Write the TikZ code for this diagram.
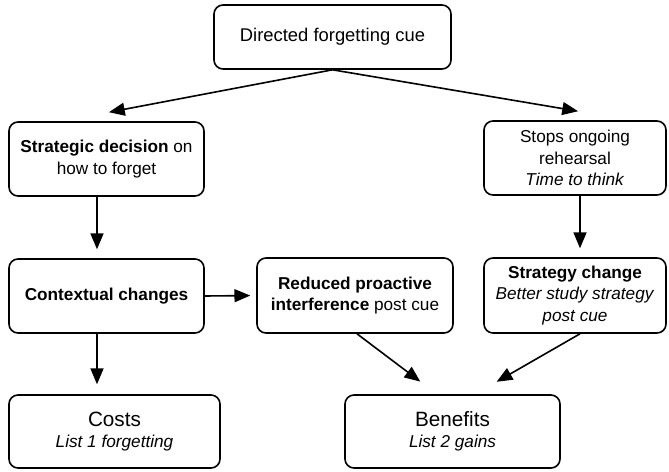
\documentclass[tikz,border=0pt]{standalone}
\usepackage{fontspec}
\setmainfont{Liberation Sans}
\usetikzlibrary{arrows}

\begin{document}
\begin{tikzpicture}
  [x=0.5pt,y=-0.5pt,
   every node/.style={draw,rounded corners=4.5pt,line width=0.8pt,align=center,
     inner sep=2pt,font=\fontsize{8.6}{10.75}\selectfont},
   link/.style={line width=0.8pt,arrows={-{triangle 45}}}]
  \useasboundingbox (0,0) rectangle (669,471);

  \node[minimum width=118.5pt,minimum height=32pt,font=\fontsize{9.2}{11}\selectfont]
    (cue) at (332.5,37) {Directed forgetting cue};
  \node[minimum width=97.5pt,minimum height=37pt] (decide) at (106.5,159)
    {\textbf{Strategic decision} on\\how to forget};
  \node[minimum width=91pt,minimum height=37pt] (stops) at (575,158)
    {Stops ongoing\\rehearsal\\\textit{Time to think}};
  \node[minimum width=97.5pt,minimum height=37pt] (context) at (106.5,296)
    {\textbf{Contextual changes}};
  \node[minimum width=98pt,minimum height=37.5pt] (reduced) at (355,295.5)
    {\textbf{Reduced proactive}\\\textbf{interference} post cue};
  \node[minimum width=91pt,minimum height=37.5pt] (change) at (575,295.5)
    {\textbf{Strategy change}\\\textit{Better study strategy}\\\textit{post cue}};
  \node[minimum width=105.5pt,minimum height=36.5pt] (costs) at (114.5,431.5)
    {{\fontsize{10.35}{10.75}\selectfont Costs}\\\textit{List 1 forgetting}};
  \node[minimum width=107.5pt,minimum height=36.5pt] (benefits) at (452.5,431.5)
    {{\fontsize{10.35}{10.75}\selectfont Benefits}\\\textit{List 2 gains}};

  \draw[link] (cue.south) to ([xshift=1.25pt,yshift=4.5pt]decide.north);
  \draw[link] (cue.south) to ([xshift=1.5pt,yshift=4.5pt]stops.north);
  \draw[link] ([xshift=-4.75pt]decide.south) to ([xshift=-4.75pt,yshift=4.5pt]context.north);
  \draw[link] ([xshift=2.5pt]stops.south) to ([xshift=2.5pt,yshift=4.5pt]change.north);
  \draw[link,shorten >=5pt] ([xshift=-4.75pt]context.south) to ([xshift=-4.75pt]context.south |- costs.north);
  \draw[link,shorten >=3pt] (context.east) to (reduced.west);
  \draw[link,shorten >=10.5pt] ([xshift=1pt]reduced.south) to ([xshift=-7.75pt]benefits.north);
  \draw[link,shorten >=12.5pt] ([xshift=2.5pt]change.south) to ([xshift=11.25pt]benefits.north);
\end{tikzpicture}
\end{document}
